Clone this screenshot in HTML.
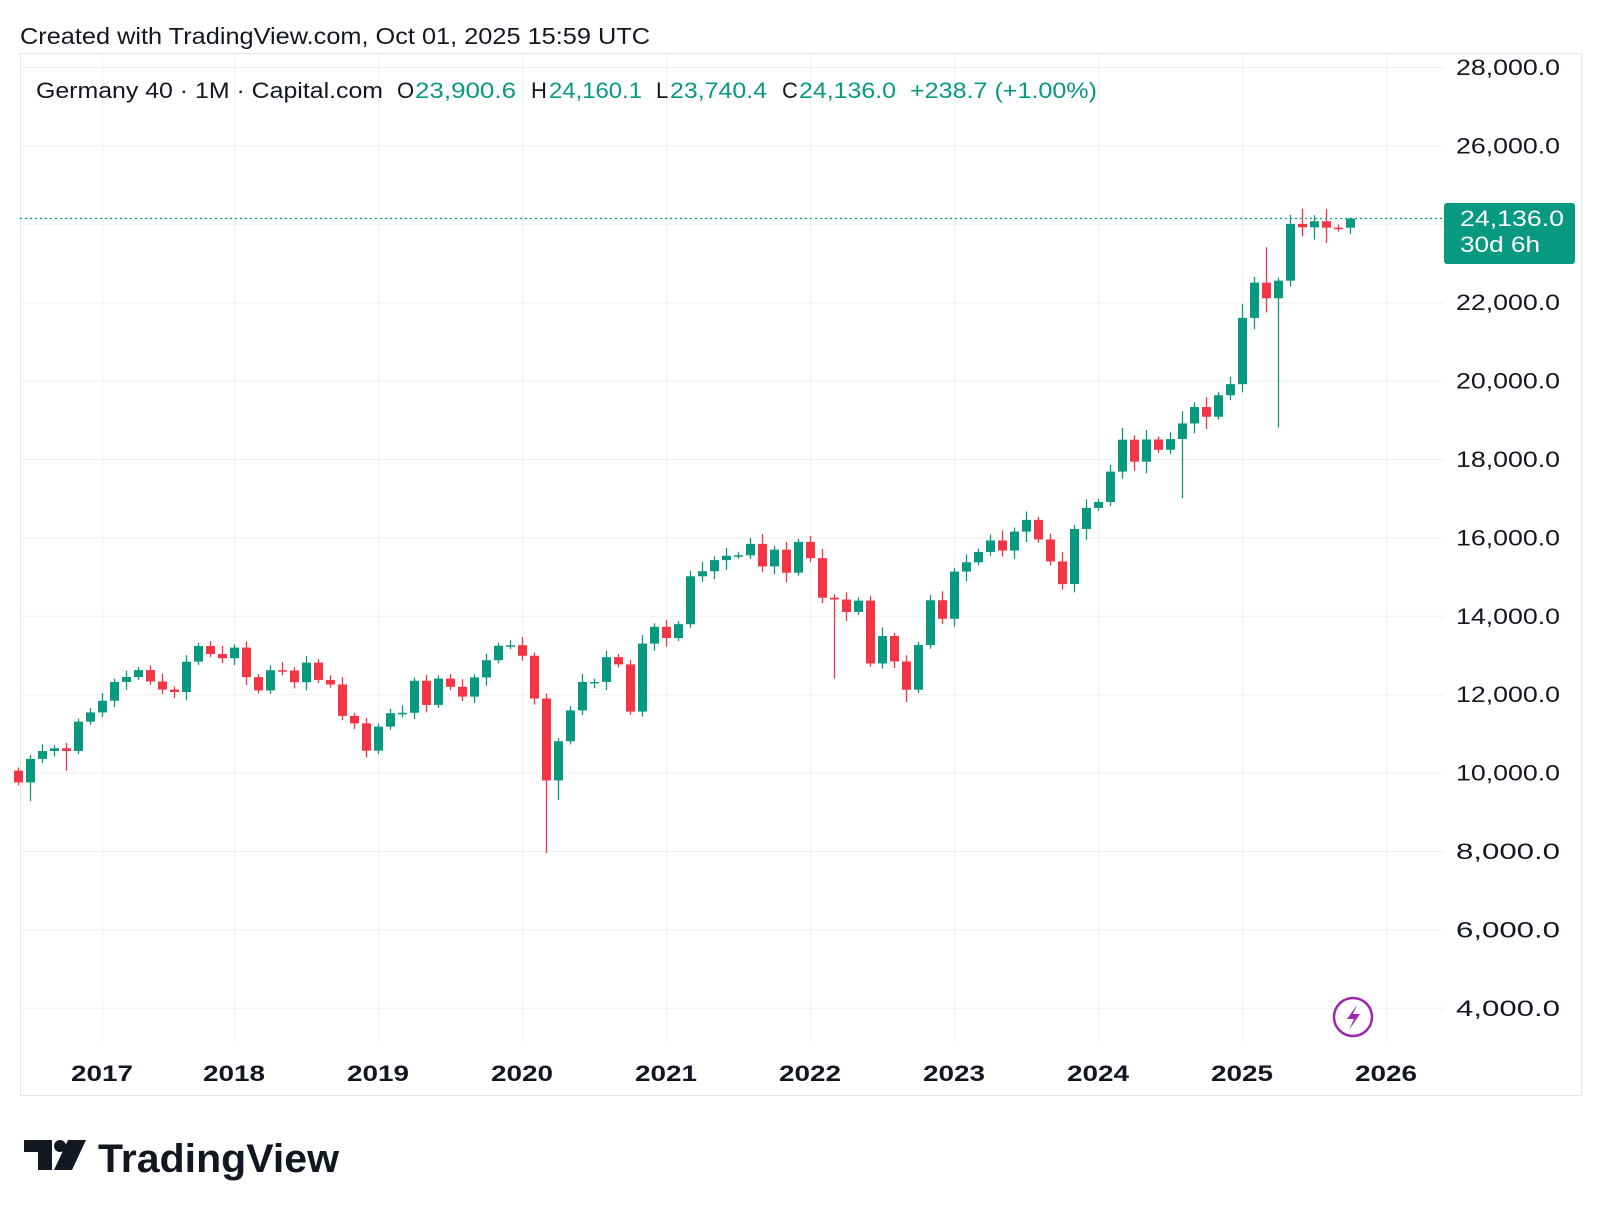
<!DOCTYPE html>
<html><head><meta charset="utf-8"><style>
body{margin:0;background:#fff;width:1602px;height:1216px;overflow:hidden;font-family:"Liberation Sans",sans-serif}
</style></head><body>
<svg id="s" width="1602" height="1216" xmlns="http://www.w3.org/2000/svg" font-family="Liberation Sans, sans-serif">
<text x="20" y="44" font-size="23" fill="#131722" textLength="630" lengthAdjust="spacingAndGlyphs">Created with TradingView.com, Oct 01, 2025 15:59 UTC</text>
<rect x="20.5" y="53.5" width="1561" height="1042" fill="none" stroke="#e6e6e6"/>
<g id="grid"></g>
<g id="c"></g>
<line x1="20" x2="1444" y1="218.5" y2="218.5" stroke="#089981" stroke-dasharray="2,3" stroke-width="1.3"/>
<rect x="1444" y="203" width="131" height="61" rx="3" fill="#089981"/>
<text x="1460" y="226" font-size="22" fill="#fff" textLength="104" lengthAdjust="spacingAndGlyphs">24,136.0</text>
<text x="1460" y="252" font-size="22" fill="#fff" textLength="80" lengthAdjust="spacingAndGlyphs">30d 6h</text>
<g font-size="22" fill="#131722">
<text x="36" y="98" textLength="347" lengthAdjust="spacingAndGlyphs">Germany 40 · 1M · Capital.com</text>
<text x="397" y="98">O</text><text x="415" y="98" fill="#089981" textLength="101" lengthAdjust="spacingAndGlyphs">23,900.6</text>
<text x="531" y="98">H</text><text x="549" y="98" fill="#089981" textLength="93" lengthAdjust="spacingAndGlyphs">24,160.1</text>
<text x="656" y="98">L</text><text x="670" y="98" fill="#089981" textLength="97" lengthAdjust="spacingAndGlyphs">23,740.4</text>
<text x="782" y="98">C</text><text x="799" y="98" fill="#089981" textLength="97" lengthAdjust="spacingAndGlyphs">24,136.0</text>
<text x="910" y="98" fill="#089981" textLength="187" lengthAdjust="spacingAndGlyphs">+238.7 (+1.00%)</text>
</g>
<circle cx="1353" cy="1017" r="19" fill="#fff" stroke="#9c27b0" stroke-width="2.5"/>
<path d="M1357 1005 L1347 1019 L1354 1019 L1349 1030 L1360 1014 L1353 1014 Z" fill="#9c27b0"/>
<g transform="translate(24,1140)"><path d="M0 0 H28 V30 H14 V12 H0 Z" fill="#131722"/><circle cx="36" cy="6" r="6" fill="#131722"/><path d="M44 0 H62 L48 30 H30 Z" fill="#131722"/></g>
<text x="98" y="1172" font-size="40" font-weight="bold" fill="#131722" textLength="241" lengthAdjust="spacingAndGlyphs">TradingView</text>
</svg>
<script>
const NS="http://www.w3.org/2000/svg";
function el(p,t,a,txt){const e=document.createElementNS(NS,t);for(const k in a)e.setAttribute(k,a[k]);if(txt)e.textContent=txt;p.appendChild(e);return e;}
const Y=v=>67+(28000-v)/2000*78.4;
const X=m=>234+12*m;
const g=document.getElementById('grid'),c=document.getElementById('c');
for(let v=4000;v<=28000;v+=2000){el(g,'line',{x1:20,x2:1444,y1:Y(v)+.5,y2:Y(v)+.5,stroke:'#f0f0f0'});
el(g,'text',{x:1456,y:Y(v)+8,'font-size':22,fill:'#131722',textLength:104,lengthAdjust:'spacingAndGlyphs'},v.toLocaleString('en-US')+'.0');}
const yrs=[[2017,102]];for(let y=2018;y<=2026;y++)yrs.push([y,234+(y-2018)*144]);
yrs.forEach(([y,x])=>{el(g,'line',{x1:x+.5,x2:x+.5,y1:53,y2:1042,stroke:'#f0f0f0'});
el(g,'text',{x:x-31,y:1081,'font-size':22,'font-weight':'bold',fill:'#131722',textLength:62,lengthAdjust:'spacingAndGlyphs'},y);});
const closes=[9750,10350,10550,10620,10550,11300,
11535,11834,12313,12438,12615,12325,12118,12056,12829,13230,13024,12918,
13189,12436,12097,12612,12605,12306,12806,12364,12247,11447,11257,10559,
11173,11516,11526,12344,11727,12399,12189,11939,12428,12867,13236,13249,
12981,11890,9800,10800,11587,12311,12313,12945,12761,11556,13291,13719,
13433,13786,15008,15136,15421,15531,15544,15835,15261,15688,15100,15885,
15471,14461,14415,14098,14388,12784,13484,12835,12114,13253,14397,13924,
15128,15365,15629,15922,15664,16148,16447,15947,15387,14810,16215,16752,
16904,17678,18492,17932,18498,18235,18509,18907,19325,19078,19626,19909,
21600,22500,22100,22550,23997,23910,24065,23902,23881,24136];
const start=-18;
const lows={[-17]:9270,[-14]:10050,[26]:7950,[27]:9300,[50]:12400,[56]:11800,[79]:17000,[87]:18800};
const highs={[86]:23400};
let prev=10050;
closes.forEach((cl,i)=>{const m=start+i;const o=(i==closes.length-1)?23900.6:prev;const x=X(m);
let hi=Math.max(o,cl)+Math.max(80,0.01*cl*((i*7)%5/3+0.3));
let lo=Math.min(o,cl)-Math.max(80,0.01*cl*((i*11)%5/3+0.3));
if(lows[m])lo=lows[m];if(highs[m])hi=highs[m];
if(i==closes.length-1){hi=24160.1;lo=23740.4;}
const col=cl>=o?'#089981':'#f23645';
el(c,'line',{x1:x+.5,x2:x+.5,y1:Y(hi),y2:Y(lo),stroke:col,'stroke-width':1.3});
const t=Y(Math.max(o,cl)),b=Y(Math.min(o,cl));
el(c,'rect',{x:x-4,y:t,width:9,height:Math.max(1.5,b-t),fill:col});
prev=cl;});
</script>
</body></html>
